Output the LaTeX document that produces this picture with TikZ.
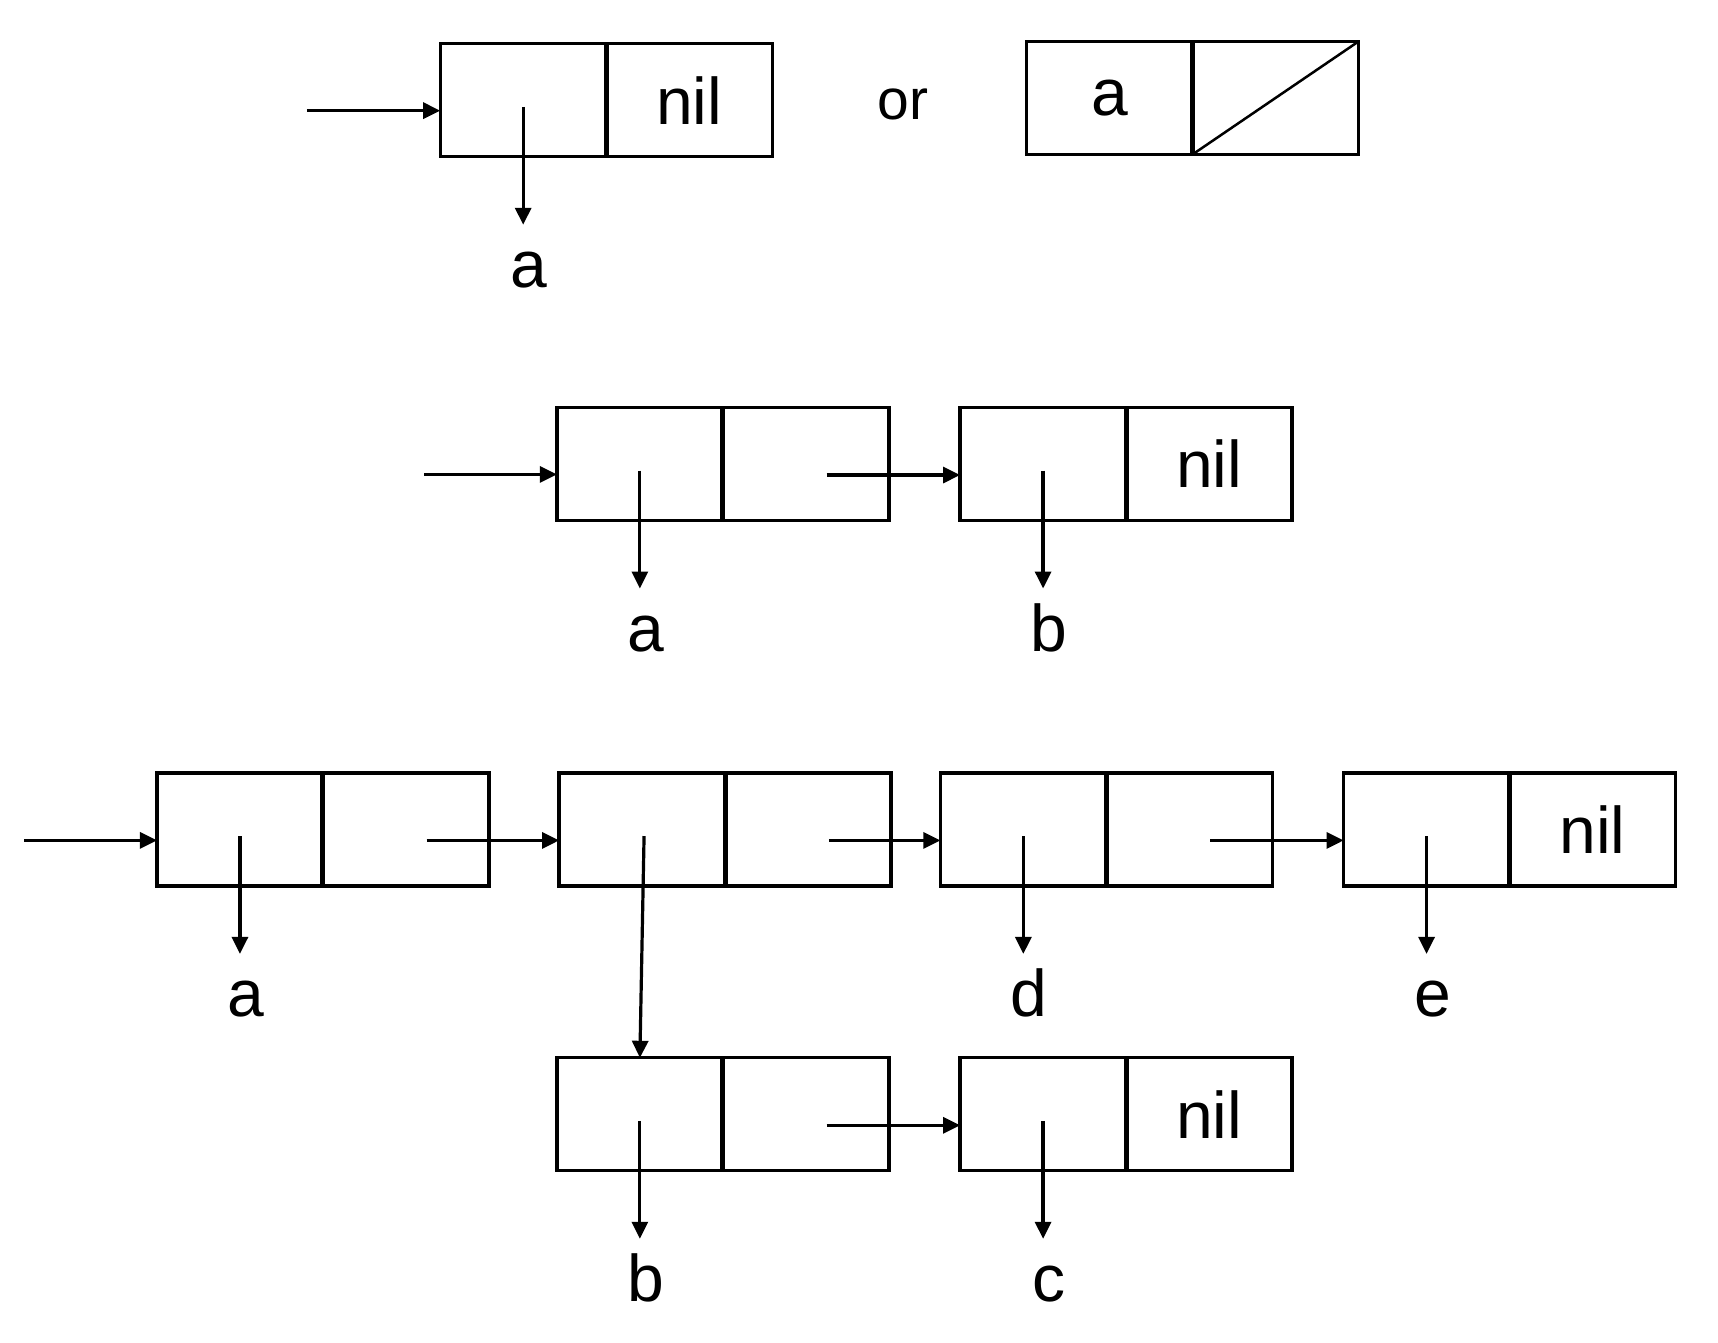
\documentclass[tikz,border=0pt]{standalone}
\usepackage{fontspec}
\setmainfont{Liberation Sans}
\usetikzlibrary{arrows.meta,calc}
\begin{document}
\begin{tikzpicture}[x=1.0957pt,y=-1.0957pt,
  cell/.style={draw, line width=3.3pt, minimum width=166pt, minimum height=113pt, inner sep=0pt, outer sep=0pt, font=\fontsize{66}{70}\selectfont},
  divider/.style={line width=5pt},
  ptr/.style={line width=3.2pt, -{Triangle[length=17pt,width=16pt]}},
  lbl/.style={font=\fontsize{66}{70}\selectfont, inner sep=0pt, text height=47pt, text depth=0pt, outer xsep=0pt, outer ysep=16pt, anchor=base},
  slash/.style={line width=2.5pt},
]
\useasboundingbox[fill=white] (0,0) rectangle (1568,1225);

% ---------- Row 1 ----------
\node[cell] (t1) at (477.5,91.5) {};
\node[cell] (t1r) at ([xshift=166pt]t1.center) {nil};
\draw[divider] (t1.north east) -- (t1.south east);
\coordinate (in1) at (280,101);
\draw[ptr] (in1) -- (in1 -| t1.west);
\node[lbl] (la1) at ([xshift=6pt,yshift=-131pt]t1.south) {a};
\draw[ptr] ([yshift=-6.6pt]t1.center) -- (t1.center |- la1.north);

\node[font=\fontsize{57}{60}\selectfont, inner sep=0pt] (or) at (824,95) {or};

\node[cell] (o1) at (1012.5,89.5) {a};
\node[cell] (o1r) at ([xshift=166pt]o1.center) {};
\draw[divider] (o1.north east) -- (o1.south east);
\draw[slash] (o1r.south west) -- (o1r.north east);

% ---------- Row 2 ----------
\node[cell] (r2a) at (584,423.5) {};
\node[cell] (r2ar) at ([xshift=166pt]r2a.center) {};
\draw[divider] (r2a.north east) -- (r2a.south east);
\node[cell] (r2b) at (952,423.5) {};
\node[cell] (r2br) at ([xshift=166pt]r2b.center) {nil};
\draw[divider] (r2b.north east) -- (r2b.south east);

\coordinate (in2) at (387,433);
\draw[ptr] (in2) -- (in2 -| r2a.west);
\coordinate (p2) at ([xshift=20.8pt,yshift=-11pt]r2ar.center);
\draw[ptr] (p2) -- (p2 -| r2b.west);

\node[lbl] (la2) at ([xshift=6pt,yshift=-131pt]r2a.south) {a};
\draw[ptr] ([yshift=-6.6pt]r2a.center) -- (r2a.center |- la2.north);
\node[lbl] (lb2) at ([xshift=6pt,yshift=-131pt]r2b.south) {b};
\draw[ptr] ([yshift=-6.6pt]r2b.center) -- (r2b.center |- lb2.north);

% ---------- Row 3 ----------
\node[cell] (s1) at (219,757) {};
\node[cell] (s1r) at ([xshift=166pt]s1.center) {};
\draw[divider] (s1.north east) -- (s1.south east);
\node[cell] (s2) at (586,757) {};
\node[cell] (s2r) at ([xshift=166pt]s2.center) {};
\draw[divider] (s2.north east) -- (s2.south east);
\node[cell] (s3) at (934,757) {};
\node[cell] (s3r) at ([xshift=166pt]s3.center) {};
\draw[divider] (s3.north east) -- (s3.south east);
\node[cell] (s4) at (1302,757) {};
\node[cell] (s4r) at ([xshift=166pt]s4.center) {nil};
\draw[divider] (s4.north east) -- (s4.south east);

\coordinate (in3) at (22,767);
\draw[ptr] (in3) -- (in3 -| s1.west);
\coordinate (p31) at ([xshift=20.8pt,yshift=-11pt]s1r.center);
\draw[ptr] (p31) -- (p31 -| s2.west);
\coordinate (p32) at ([xshift=20.8pt,yshift=-11pt]s2r.center);
\draw[ptr] (p32) -- (p32 -| s3.west);
\coordinate (p33) at ([xshift=20.8pt,yshift=-11pt]s3r.center);
\draw[ptr] (p33) -- (p33 -| s4.west);

\node[lbl] (la3) at ([xshift=6pt,yshift=-131pt]s1.south) {a};
\draw[ptr] ([yshift=-6.6pt]s1.center) -- (s1.center |- la3.north);
\node[lbl] (ld3) at ([xshift=5pt,yshift=-131pt]s3.south) {d};
\draw[ptr] ([yshift=-6.6pt]s3.center) -- (s3.center |- ld3.north);
\node[lbl] (le3) at ([xshift=6pt,yshift=-131pt]s4.south) {e};
\draw[ptr] ([yshift=-6.6pt]s4.center) -- (s4.center |- le3.north);

% ---------- Row 4 ----------
\node[cell] (u1) at (584,1017) {};
\node[cell] (u1r) at ([xshift=166pt]u1.center) {};
\draw[divider] (u1.north east) -- (u1.south east);
\node[cell] (u2) at (952,1017) {};
\node[cell] (u2r) at ([xshift=166pt]u2.center) {nil};
\draw[divider] (u2.north east) -- (u2.south east);

\draw[ptr] ([xshift=2pt,yshift=-6.6pt]s2.center) -- (u1.north);
\coordinate (p4) at ([xshift=20.8pt,yshift=-11pt]u1r.center);
\draw[ptr] (p4) -- (p4 -| u2.west);

\node[lbl] (lb4) at ([xshift=6pt,yshift=-131pt]u1.south) {b};
\draw[ptr] ([yshift=-6.6pt]u1.center) -- (u1.center |- lb4.north);
\node[lbl] (lc4) at ([xshift=6pt,yshift=-131pt]u2.south) {c};
\draw[ptr] ([yshift=-6.6pt]u2.center) -- (u2.center |- lc4.north);
\end{tikzpicture}
\end{document}
